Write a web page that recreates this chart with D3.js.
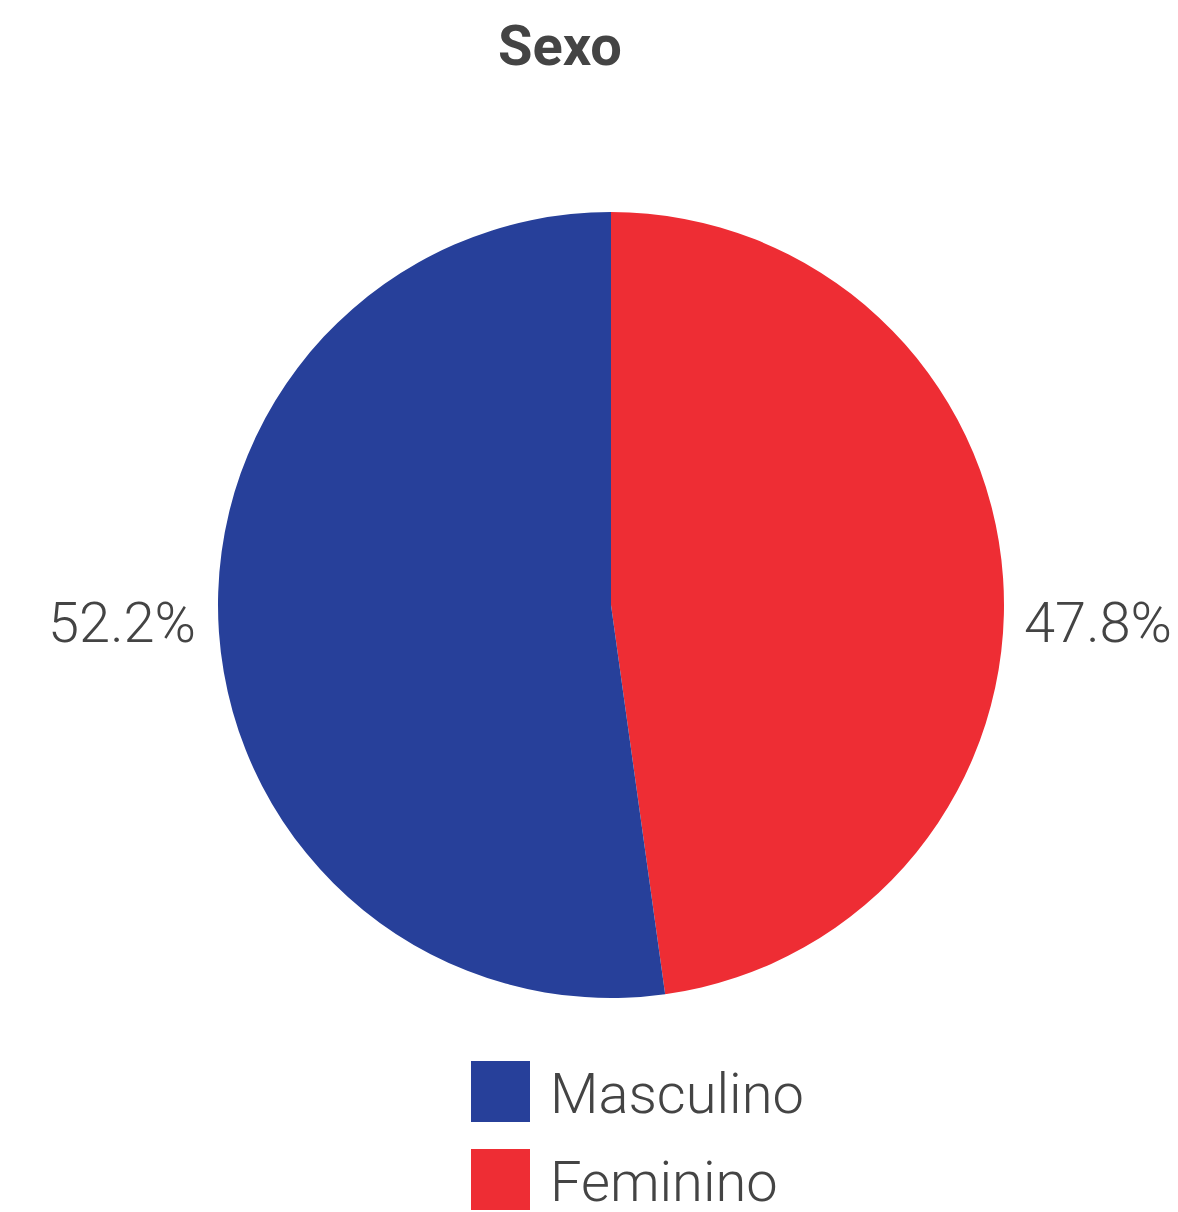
<!DOCTYPE html>
<html>
<head>
<meta charset="utf-8">
<script src="https://cdn.jsdelivr.net/npm/d3@7"></script>
<style>
  html, body { margin: 0; padding: 0; background: #fff; }
  svg text { font-family: Roboto, "Noto Sans", sans-serif; fill: #444; }
</style>
</head>
<body>
<div id="chart"></div>
<script>
/**
 * DATA
 * */
const title = "Sexo";
const categories = ["Feminino", "Masculino"];
const values = [47.8, 52.2];
const colors = ["#ee2d34", "#27409a"];
const legendOrder = ["Masculino", "Feminino"];

/**
 * CONSTANTS
 * */
const width = 1178,
  height = 1212,
  cx = 611,
  cy = 605,
  radius = 393;

const svg = d3
  .select("#chart")
  .append("svg")
  .attr("width", width)
  .attr("height", height);

const color = d3.scaleOrdinal().domain(categories).range(colors);

// title
svg
  .append("text")
  .attr("x", 560)
  .attr("y", 65)
  .attr("text-anchor", "middle")
  .style("font-size", "56px")
  .style("font-weight", 700)
  .text(title);

// pie, starting at 12 o'clock going clockwise
const pie = d3.pie().sort(null).value(d => d.value);
const arc = d3.arc().innerRadius(0).outerRadius(radius);
const slices = pie(categories.map((c, i) => ({ name: c, value: values[i] })));

const g = svg.append("g").attr("transform", `translate(${cx},${cy})`);

g.selectAll("path")
  .data(slices)
  .join("path")
  .attr("d", arc)
  .attr("fill", d => color(d.data.name));

// outside labels
const fmt = d => d3.format(".1f")(d) + "%";
g.selectAll(".label")
  .data(slices)
  .join("text")
  .attr("class", "label")
  .attr("x", d => {
    const mid = (d.startAngle + d.endAngle) / 2;
    return Math.sin(mid) > 0 ? radius + 20 : -radius - 22;
  })
  .attr("y", 37)
  .attr("text-anchor", d => ((d.startAngle + d.endAngle) / 2 < Math.PI ? "start" : "end"))
  .style("font-size", "56px")
  .style("font-weight", 300)
  .text(d => fmt(d.data.value));

// legend
const legend = svg
  .append("g")
  .attr("transform", "translate(471,1061)");

const item = legend
  .selectAll("g")
  .data(legendOrder)
  .join("g")
  .attr("transform", (d, i) => `translate(0,${i * 88})`);

item
  .append("rect")
  .attr("width", 59)
  .attr("height", 61)
  .attr("fill", d => color(d));

item
  .append("text")
  .attr("x", 79)
  .attr("y", 52)
  .style("font-size", "56px")
  .style("font-weight", 300)
  .text(d => d);
</script>
</body>
</html>
